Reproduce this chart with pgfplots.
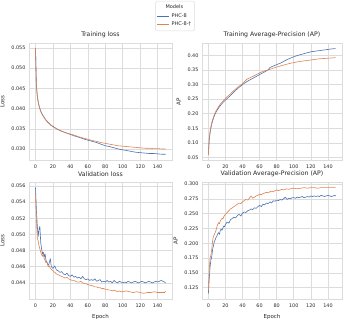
\documentclass[border=0pt]{standalone}
\usepackage{pgfplots}
\pgfplotsset{compat=1.18}
\usepackage{fontspec}
\setmainfont{DejaVu Sans}
\definecolor{sbblue}{HTML}{4C72B0}
\definecolor{sborange}{HTML}{DD8452}
\definecolor{txt}{HTML}{262626}
\definecolor{gridc}{HTML}{DCDCDC}
\pgfplotsset{
  panel/.style={
    scale only axis, width=143pt, height=117pt,
    xmin=-7.45, xmax=156.45,
    xtick={0,20,...,140},
    grid=major, grid style={gridc, line width=0.6pt},
    axis line style={gridc, line width=0.6pt},
    major tick length=0pt,
    tick label style={font=\fontsize{4.9}{6}\selectfont, text=txt},
    /pgf/number format/assume math mode=true,
    scaled y ticks=false,
    title style={font=\fontsize{6.2}{7}\selectfont, text=txt, yshift=-4pt},
    label style={font=\fontsize{5.5}{6}\selectfont, text=txt},
    every axis plot/.append style={line width=0.6pt, line join=round},
    xticklabel style={yshift=-1pt},
  },
}
\begin{document}
\begin{tikzpicture}
\useasboundingbox (0,0) rectangle (349pt,319pt);
% Top-left
\begin{axis}[panel, at={(29pt,159pt)}, anchor=south west,
  title={Training loss}, ylabel={Loss},
  ymin=0.02728, ymax=0.05624,
  ytick={0.030,0.035,...,0.0551},
  yticklabel style={/pgf/number format/.cd, fixed, fixed zerofill, precision=3},
  legend style={at={(1.021,1.359)}, anchor=north, draw=gridc, rounded corners=1.5pt,
    font=\fontsize{5}{6}\selectfont, text=txt, row sep=-0.5pt, inner sep=1.5pt},
  legend cell align=left,
  legend image code/.code={\draw[#1, line width=0.7pt] (0pt,0pt) -- (12pt,0pt);},
]
\addlegendimage{empty legend}
\addlegendentry{\hspace*{-6pt}Models}
\addplot[sbblue] coordinates {(0,.0550)(1,.0460)(2,.0433)(3,.0418)(4,.0408)(5,.0400)(6,.0394)(7,.0389)(8,.0385)(10,.0378)(12,.0372)(14,.0367)(16,.0363)(18,.0359)(20,.0356)(25,.0349)(30,.0344)(35,.0340)(40,.0336)(45,.0332)(50,.0329)(55,.0325)(60,.0322)(65,.0319)(70,.0316)(75,.0312)(80,.0308)(85,.0306)(90,.0303)(95,.0300)(100,.0298)(105,.0296)(110,.0294)(115,.0292)(120,.0291)(125,.0290)(130,.0289)(135,.0289)(140,.0288)(145,.0287)(149,.0287)};
\addlegendentry{PHC-8}
\addplot[sborange] coordinates {(0,.0550)(1,.0457)(2,.0431)(3,.0417)(4,.0407)(5,.0399)(6,.0393)(7,.0388)(8,.0384)(10,.0377)(12,.0371)(14,.0366)(16,.0362)(18,.0358)(20,.0355)(25,.0349)(30,.0344)(35,.0340)(40,.0337)(45,.0334)(50,.0330)(55,.0327)(60,.0324)(65,.0321)(70,.0319)(75,.0316)(80,.0314)(85,.0312)(90,.0310)(95,.0308)(100,.0307)(105,.0306)(110,.0305)(115,.0304)(120,.0303)(125,.0302)(130,.0302)(135,.0301)(140,.0301)(145,.0300)(149,.0300)};
\addlegendentry{PHC-8-†}
\end{axis}
% Top-right
\begin{axis}[panel, width=140pt, at={(202pt,159pt)}, anchor=south west,
  title={Training Average-Precision (AP)}, ylabel={AP},
  ymin=0.042, ymax=0.442,
  ytick={0.05,0.10,...,0.401},
  yticklabel style={/pgf/number format/.cd, fixed, fixed zerofill, precision=2},
]
\addplot[sbblue] coordinates {(0,.060)(1,.110)(2,.135)(3,.152)(4,.165)(5,.176)(6,.185)(7,.193)(8,.200)(10,.211)(12,.220)(14,.228)(16,.235)(18,.241)(20,.247)(25,.260)(30,.275)(35,.288)(40,.300)(45,.310)(50,.318)(55,.326)(60,.334)(65,.342)(70,.350)(72,.358)(75,.362)(80,.368)(85,.374)(90,.382)(95,.389)(100,.395)(105,.400)(110,.404)(115,.408)(120,.412)(125,.414)(130,.416)(135,.418)(140,.420)(145,.422)(149,.423)};
\addplot[sborange] coordinates {(0,.060)(1,.115)(2,.140)(3,.157)(4,.170)(5,.180)(6,.189)(7,.197)(8,.204)(10,.215)(12,.225)(14,.233)(16,.240)(18,.247)(20,.253)(25,.266)(30,.280)(35,.292)(40,.303)(45,.318)(50,.325)(55,.332)(60,.340)(65,.346)(70,.350)(75,.355)(80,.360)(85,.364)(90,.368)(95,.372)(100,.375)(105,.378)(110,.380)(115,.382)(120,.384)(125,.386)(130,.388)(135,.389)(140,.390)(145,.391)(149,.392)};
\end{axis}
% Bottom-left
\begin{axis}[panel, at={(29pt,20pt)}, anchor=south west,
  title={Validation loss}, ylabel={Loss}, xlabel={Epoch},
  ymin=0.0420, ymax=0.0565,
  ytick={0.044,0.046,...,0.0561},
  yticklabel style={/pgf/number format/.cd, fixed, fixed zerofill, precision=3},
]
\addplot[sbblue] coordinates {(0,.0558)(1,.0530)(2,.0512)(3,.0497)(4,.0506)(5,.0510)(6,.0490)(7,.0482)(8,.0476)(9,.0478)(10,.0472)(11,.0476)(12,.0468)(13,.0466)(14,.0463)(15,.0462)(16,.0466)(17,.0470)(18,.0461)(19,.0459)(20,.0458)(22,.0461)(24,.0456)(26,.0455)(28,.0453)(30,.0454)(32,.0451)(34,.0450)(36,.0452)(38,.0449)(40,.0448)(42,.0450)(44,.0447)(46,.0448)(48,.0446)(50,.0447)(52,.0445)(54,.0448)(56,.0445)(58,.0444)(60,.0445)(62,.0443)(64,.0444)(66,.0443)(68,.0445)(70,.0442)(72,.0443)(74,.0444)(76,.0441)(78,.0442)(80,.0441)(82,.0443)(84,.0441)(86,.0442)(88,.0440)(90,.0443)(92,.0441)(94,.0440)(96,.0442)(98,.0441)(100,.0440)(102,.0441)(104,.0440)(106,.0442)(108,.0441)(110,.0440)(112,.0441)(114,.0442)(116,.0441)(118,.0440)(120,.0441)(122,.0442)(124,.0441)(126,.0440)(128,.0441)(130,.0442)(132,.0441)(134,.0440)(136,.0441)(138,.0442)(140,.0441)(142,.0442)(144,.0443)(146,.0442)(148,.0441)(149,.0440)};
\addplot[sborange] coordinates {(0,.0550)(1,.0520)(2,.0496)(3,.0492)(4,.0486)(5,.0482)(6,.0478)(7,.0475)(8,.0473)(9,.0476)(10,.0470)(11,.0468)(12,.0465)(13,.0466)(14,.0462)(15,.0460)(16,.0461)(17,.0458)(18,.0457)(19,.0456)(20,.0455)(22,.0453)(24,.0451)(26,.0450)(28,.0449)(30,.0448)(32,.0447)(34,.0446)(36,.0447)(38,.0445)(40,.0444)(42,.0443)(44,.0443)(46,.0442)(48,.0441)(50,.0441)(52,.0442)(54,.0440)(56,.0439)(58,.0439)(60,.0438)(62,.0437)(64,.0437)(66,.0436)(68,.0435)(70,.0435)(72,.0434)(74,.0434)(76,.0433)(78,.0433)(80,.0432)(82,.0432)(84,.0431)(86,.0431)(88,.0430)(90,.0431)(92,.0430)(94,.0429)(96,.0430)(98,.0429)(100,.0429)(104,.0430)(108,.0429)(112,.0428)(116,.0429)(120,.0428)(124,.0427)(128,.0428)(132,.0428)(136,.0429)(140,.0428)(144,.0428)(148,.0428)(149,.0430)};
\end{axis}
% Bottom-right
\begin{axis}[panel, width=140pt, at={(202pt,20pt)}, anchor=south west,
  title={Validation Average-Precision (AP)}, ylabel={AP}, xlabel={Epoch},
  ymin=0.106, ymax=0.3035,
  ytick={0.125,0.150,...,0.301},
  yticklabel style={/pgf/number format/.cd, fixed, fixed zerofill, precision=3},
]
\addplot[sbblue] coordinates {(0,.115)(1,.140)(2,.160)(3,.172)(4,.178)(5,.190)(6,.196)(7,.203)(8,.206)(9,.210)(10,.212)(11,.216)(12,.218)(13,.215)(14,.222)(15,.224)(16,.222)(17,.226)(18,.229)(19,.228)(20,.232)(22,.236)(24,.234)(26,.240)(28,.242)(30,.244)(32,.243)(34,.247)(36,.249)(38,.246)(40,.251)(42,.253)(44,.252)(46,.255)(48,.256)(50,.258)(52,.257)(54,.260)(56,.259)(58,.262)(60,.264)(62,.262)(64,.266)(66,.265)(68,.268)(70,.267)(72,.270)(74,.268)(76,.272)(78,.271)(80,.273)(82,.272)(84,.274)(86,.273)(88,.275)(90,.278)(92,.274)(94,.276)(96,.275)(98,.277)(100,.277)(102,.276)(104,.278)(106,.277)(108,.278)(110,.279)(112,.277)(114,.278)(116,.279)(118,.278)(120,.280)(122,.279)(124,.280)(126,.279)(128,.280)(130,.279)(132,.281)(134,.280)(136,.279)(138,.280)(140,.281)(142,.280)(144,.279)(146,.280)(148,.281)(149,.280)};
\addplot[sborange] coordinates {(0,.120)(1,.155)(2,.175)(3,.180)(4,.190)(5,.205)(6,.212)(7,.215)(8,.218)(9,.222)(10,.228)(11,.232)(12,.235)(13,.233)(14,.238)(15,.240)(16,.242)(17,.241)(18,.245)(19,.247)(20,.249)(22,.252)(24,.255)(26,.258)(28,.260)(30,.262)(32,.264)(34,.266)(36,.268)(38,.267)(40,.270)(42,.272)(44,.274)(46,.273)(48,.276)(50,.280)(52,.276)(54,.278)(56,.280)(58,.281)(60,.283)(62,.282)(64,.284)(66,.285)(68,.286)(70,.285)(72,.287)(74,.288)(76,.287)(78,.289)(80,.290)(82,.289)(84,.290)(86,.291)(88,.290)(90,.291)(92,.292)(94,.291)(96,.292)(98,.293)(100,.293)(104,.292)(108,.293)(112,.294)(116,.293)(120,.294)(124,.294)(128,.293)(132,.294)(136,.294)(140,.294)(144,.294)(148,.294)(149,.294)};
\end{axis}
\end{tikzpicture}
\end{document}
